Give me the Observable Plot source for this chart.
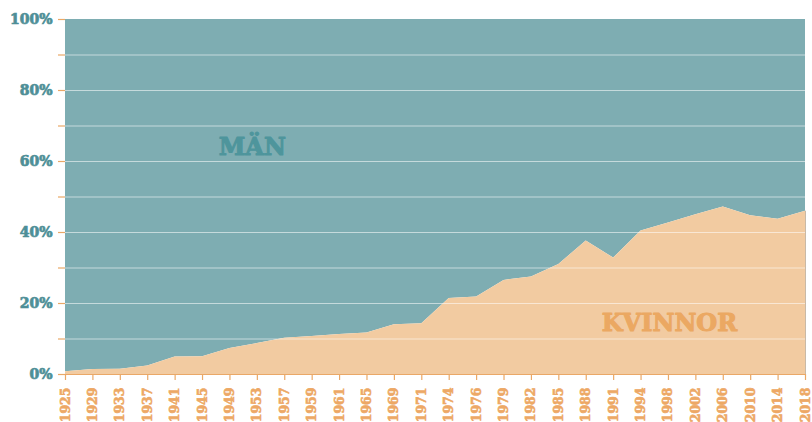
<!DOCTYPE html>
<html>
<head>
<meta charset="utf-8">
<script src="https://cdn.jsdelivr.net/npm/d3@7"></script>
<script src="https://cdn.jsdelivr.net/npm/@observablehq/plot@0.6"></script>
<style>
  body { margin: 0; background: #fff; }
  #chart svg { display: block; }
  #chart svg text { font-weight: 700; font-family: "DejaVu Serif", serif; }
  #chart g[aria-label="y-axis tick label"] text { stroke: #4e8f97; stroke-width: 0.7px; }
  #chart g[aria-label="x-axis tick label"] text { stroke: #eda865; stroke-width: 0.6px; }
  #chart g[aria-label="text"] text { stroke-width: 1px; }
</style>
</head>
<body>
<div id="chart"></div>
<script>
const years = ["1925","1929","1933","1937","1941","1945","1949","1953","1957","1959","1961","1965","1969","1971","1974","1976","1979","1982","1985","1988","1991","1994","1998","2002","2006","2010","2014","2018"];
const women = [0.8,1.4,1.5,2.4,4.9,5.0,7.3,8.7,10.2,10.7,11.3,11.7,14.0,14.3,21.4,21.8,26.5,27.5,31.0,37.6,32.8,40.4,42.7,45.0,47.2,44.7,43.7,46.0];
const yTicks = [0,10,20,30,40,50,60,70,80,90,100];
const gridLines = [10,20,30,40,50,60,70,80,90];
const labelMen = [{text: "MÄN", x: "1953", y: 64, color: "#4e959c"}];
const labelWomen = [{text: "KVINNOR", x: "1998", y: 14.4, color: "#eba862"}];

const rows = years.map((yr, i) => ({year: yr, women: women[i], men: 100 - women[i]}));

const chart = Plot.plot({
  width: 812,
  height: 422,
  marginLeft: 65,
  marginRight: 7,
  marginTop: 19,
  marginBottom: 48,
  style: {fontFamily: "'DejaVu Serif', serif", fontWeight: "700", background: "#fff"},
  x: {type: "point", domain: years, padding: 0, round: false},
  y: {domain: [0, 100]},
  marks: [
    Plot.areaY(rows, {x: "year", y1: "women", y2: 100, fill: "#7eadb2"}),
    Plot.areaY(rows, {x: "year", y1: 0, y2: "women", fill: "#f2cba1"}),
    Plot.ruleY(gridLines, {stroke: "#ffffff", strokeOpacity: 0.55, strokeWidth: 1.2}),
    Plot.ruleY([0], {stroke: "#eaa867", strokeWidth: 1}),
    Plot.ruleX([years[years.length - 1]], {y1: 0, y2: women[women.length - 1], stroke: "#c9b9a6", strokeWidth: 1}),
    Plot.axisY({ticks: yTicks, tickSize: 7, tickPadding: 6, stroke: "#eaa867", strokeWidth: 1.2,
      tickFormat: d => d % 20 === 0 ? d + "%" : "", fill: "#4e8f97", fontSize: 14, fontWeight: 700}),
    Plot.axisX({tickSize: 6, tickPadding: 7, stroke: "#eaa867", strokeWidth: 1.2, tickRotate: -90,
      fill: "#eda865", fontSize: 12.5, fontWeight: 700}),
    Plot.text(labelMen, {x: "x", y: "y", text: "text", fill: d => d.color, stroke: d => d.color, fontSize: 24, fontWeight: 700, dx: -5}),
    Plot.text(labelWomen, {x: "x", y: "y", text: "text", fill: d => d.color, stroke: d => d.color, fontSize: 24, fontWeight: 700, dx: 1})
  ]
});
document.getElementById("chart").appendChild(chart);
</script>
</body>
</html>
